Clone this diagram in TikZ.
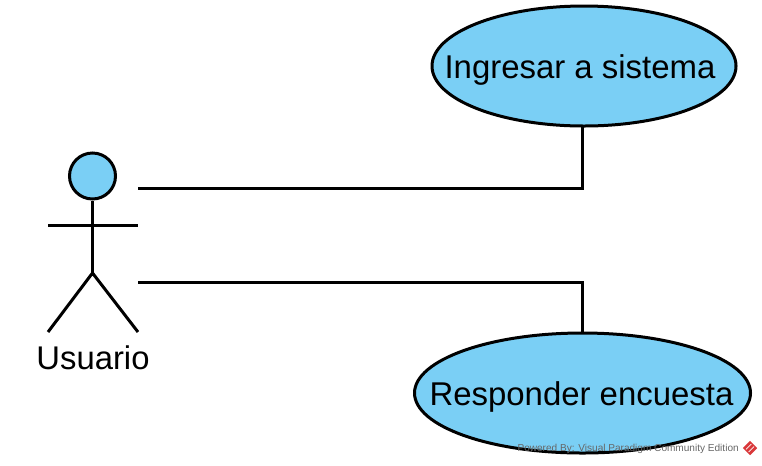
\documentclass[tikz,border=0pt]{standalone}
\usepackage{fontspec}
\setmainfont{Liberation Sans}
\usepackage{xcolor}
\usepackage{tikz}
\usetikzlibrary{positioning,shapes.geometric}
\definecolor{usecasefill}{HTML}{7ACFF5}
\definecolor{markred}{HTML}{D9383A}

\begin{document}
\begin{tikzpicture}[
    x=0.75pt, y=-0.75pt,
    usecase/.style={ellipse, draw=black, fill=usecasefill, line width=2.25pt, inner sep=0pt},
    casetext/.style={inner sep=0pt, font=\fontsize{24.7}{30}\selectfont},
    actorhead/.style={circle, draw=black, fill=usecasefill, line width=2.25pt, inner sep=0pt, minimum size=34.5pt},
    limb/.style={-, line width=2.25pt, black},
    assoc/.style={-, line width=2.25pt, black}
]
    \useasboundingbox (0,0) rectangle (762,465);
    \node[usecase, minimum width=228pt, minimum height=90pt] (ingresar) at (584,66) {};
    \node[usecase, minimum width=252pt, minimum height=90pt] (responder) at (582.5,393) {};
    \node[casetext] (ingresartext) at (580,70) {Ingresar a sistema};
    \node[casetext] (respondertext) at (581.5,397) {Responder encuesta};
    \node[actorhead] (head) at (92.5,176) {};
    \coordinate (hip) at (92.5,273);
    \coordinate (armL) at (48,225);
    \coordinate (armR) at (138,225);
    \coordinate (legL) at (48,332);
    \coordinate (legR) at (138,332);
    \coordinate (portA) at (138,188);
    \coordinate (portB) at (138,282);
    \coordinate (footA) at (582,125);
    \draw[limb] (head) -- (hip);
    \draw[limb] (armL) -- (armR);
    \draw[limb] (legL) -- (hip) -- (legR);
    \draw[assoc] (portA) -| (footA);
    \draw[assoc] (portB) -| (responder.north);
    \node[inner sep=0pt, font=\fontsize{24.6}{29}\selectfont] (usuario) at (93,358) {Usuario};
    \node[inner sep=0pt, font=\fontsize{7.55}{9.5}\selectfont, text=black!60, anchor=east] (powered) at (739,449) {Powered By: Visual Paradigm Community Edition};
    \node[diamond, fill=markred, inner sep=0pt, minimum size=11pt] (logo) at (750,448) {};
    % stripes on the mark
    \draw[white, line width=0.5pt] ([xshift=-3pt,yshift=-1pt]logo.center) -- ([xshift=1pt,yshift=3pt]logo.center);
    \draw[white, line width=0.5pt] ([xshift=-1pt,yshift=-3pt]logo.center) -- ([xshift=3pt,yshift=1pt]logo.center);
\end{tikzpicture}
\end{document}
